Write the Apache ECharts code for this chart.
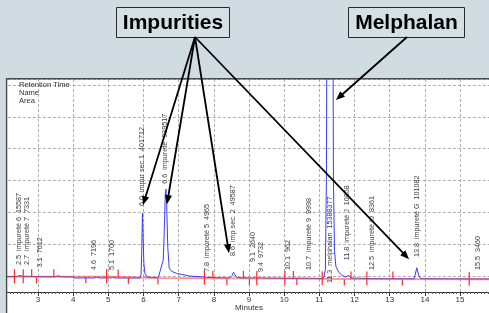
<!DOCTYPE html>
<html><head><meta charset="utf-8">
<script src="https://cdn.jsdelivr.net/npm/echarts@6/dist/echarts.min.js"></script>
<style>html,body{margin:0;padding:0;background:#d0dce1}#c{width:489px;height:313px}</style>
</head><body><div id="c"></div>
<script>
// ---- chromatogram signal (minutes, mAU-like units) ----
const signalTimes = [2.10,2.40,2.47,2.52,2.58,2.66,2.71,2.76,3.00,3.50,3.57,3.65,3.95,4.05,4.60,4.67,4.75,5.05,5.12,5.20,5.90,5.93,5.95,5.97,5.99,6.01,6.04,6.10,6.30,6.42,6.48,6.52,6.56,6.59,6.62,6.64,6.66,6.69,6.73,6.80,6.94,7.10,7.32,7.70,8.00,8.45,8.52,8.56,8.60,8.66,9.10,9.14,9.18,9.40,9.45,9.50,10.10,10.70,10.75,10.80,11.12,11.17,11.20,11.22,11.30,11.38,11.40,11.43,11.47,11.55,11.65,11.75,11.82,11.86,11.92,12.50,13.70,13.72,13.77,13.82,13.88,15.45,15.50,15.55,16.00];
const signalValues = [-0.15,-0.15,0.2,0.3,-0.1,-0.1,0.25,-0.1,-0.2,-0.2,0.1,-0.2,-0.25,-0.6,-0.6,-0.35,-0.6,-0.6,-0.45,-0.6,-0.6,0.5,8,19.8,12,4,0.8,-0.3,-0.5,-0.4,1.8,3.5,5,14,26,27.3,22,9,2.5,1.5,0.85,0.5,0.0,-0.3,-0.5,-0.6,0.2,1.2,0.4,-0.5,-0.6,-0.4,-0.6,-0.6,-0.45,-0.65,-0.7,-0.7,-0.5,-0.75,-0.8,2,30,100,420,100,30,8,3,1.2,0.2,-0.3,0.2,0.3,-0.6,-0.8,-0.85,0.3,2.6,0.3,-0.8,-0.9,-0.8,-0.9,-0.9];
// ---- integration baseline (red) ----
const baseTimes = [2.10,5.00,6.40,8.00,10.00,12.00,16.00];
const baseValues = [-0.2,-0.2,-0.6,-0.72,-0.75,-0.9,-1.0];
// ---- integration event marks: 1 = up, -1 = down, 0 = both ----
const eventTimes = [2.33,2.58,2.82,2.96,3.45,4.36,4.95,5.28,5.57,6.41,7.73,7.97,8.37,8.84,9.01,9.22,10.02,10.26,10.36,11.08,11.71,11.90,12.35,13.09,13.36,15.26];
const eventKinds = [0,0,1,-1,1,-1,0,1,-1,-1,0,1,-1,1,-1,0,0,1,-1,0,-1,1,0,1,-1,0];
// ---- peak annotations ----
const peakLabelTimes = [2.46,2.70,3.06,4.60,5.10,5.97,6.60,7.80,8.55,9.10,9.33,10.10,10.70,11.30,11.80,12.50,13.77,15.50];
const peakLabelLevels = [3.5,3.5,2.8,1.9,1.9,22,29,1.3,6.3,4.4,1.3,1.9,1.9,-2.2,5,1.9,6,1.9];
const peakLabelTexts = [
  "2.5  impureté 6  15587",
  "2.7  impureté 7  7331",
  "3.1  7612",
  "4.6  7196",
  "5.1  1700",
  "6.0  impur sec 1  401712",
  "6.6  impureté  939517",
  "7.8  impureté 5  4965",
  "8.6  imp sec. 2  49587",
  "9.1  2640",
  "9.4  9732",
  "10.1  962",
  "10.7  impureté 9  9998",
  "11.3  melphalan  15388377",
  "11.8  impureté J  10858",
  "12.5  impureté I0  8361",
  "13.8  impureté G  101082",
  "15.5  3460"
];
const legendLines = ["Retention Time","Name","Area"];
const impurityArrowTimes = [5.985,6.667,8.43,13.55];
const impurityArrowValues = [22.3,22.6,7.2,5.3];
const melphalanArrowTime = [11.47];
const melphalanArrowValue = [55.3];
const calloutTitles = ["Impurities","Melphalan"];

const BG = '#d0dce1';
function baseAt(t){
  for(let i=0;i<baseTimes.length-1;i++){
    if(t>=baseTimes[i] && t<=baseTimes[i+1]){
      const f=(t-baseTimes[i])/(baseTimes[i+1]-baseTimes[i]);
      return baseValues[i]+f*(baseValues[i+1]-baseValues[i]);
    }
  }
  return baseValues[baseValues.length-1];
}

const chart = echarts.init(document.getElementById('c'), null, {renderer:'canvas', width:489, height:313});
const FONT = '"Liberation Sans", Arial, sans-serif';
const option = {
  backgroundColor: '#ffffff',
  animation: false,
  grid: {left: 2.83, width: 492.4, top: 79, height: 213, containLabel: false, outerBoundsMode: 'none'},
  xAxis: {
    type: 'value', min: 2, max: 16, interval: 1,
    axisLine: {show: true, onZero: false, lineStyle: {color: '#333', width: 1}},
    axisTick: {show: true, inside: false, length: 4, lineStyle: {color: '#333'}},
    minorTick: {show: true, splitNumber: 10, length: 2, lineStyle: {color: '#555'}},
    axisLabel: {fontSize: 8, color: '#333', margin: 4, fontFamily: FONT,
      formatter: v => (v === 2 || v === 16) ? '' : String(v)},
    splitLine: {show: true, lineStyle: {color: '#b0b0b0', type: [3, 2], width: 1}},
    name: 'Minutes', nameLocation: 'middle', nameGap: 12, nameMoveOverlap: false,
    nameTextStyle: {fontSize: 8, color: '#333', fontFamily: FONT}
  },
  yAxis: {
    type: 'value', min: -5, max: 61.9, minInterval: 10, maxInterval: 10,
    axisLine: {show: false}, axisTick: {show: false}, axisLabel: {show: false},
    splitLine: {show: true, lineStyle: {color: '#b0b0b0', type: [3, 2], width: 1}}
  },
  series: [
    {
      type: 'line', data: signalTimes.map((t, i) => [t, signalValues[i]]),
      showSymbol: false, symbol: 'none', clip: true, z: 3,
      lineStyle: {color: '#3a3aff', width: 1}
    },
    {
      type: 'line', data: baseTimes.map((t, i) => [t, baseValues[i]]),
      showSymbol: false, symbol: 'none', z: 4,
      lineStyle: {color: 'rgba(255,60,60,0.55)', width: 2}
    },
    {
      type: 'custom', z: 5,
      data: eventTimes.map((t, i) => [t, baseAt(t), eventKinds[i]]),
      encode: {x: 0, y: 1},
      renderItem: (params, api) => {
        const p = api.coord([api.value(0), api.value(1)]);
        const k = api.value(2);
        let y1 = p[1], y2 = p[1];
        if (k >= 0) y1 = p[1] - 7.5;
        if (k <= 0) y2 = p[1] + 6.5;
        if (k < 0) y1 = p[1] + 0.5;
        return {type: 'line', shape: {x1: p[0], y1: y1, x2: p[0], y2: y2},
          style: {stroke: '#ff2a2a', lineWidth: 1.2}};
      }
    },
    {
      type: 'custom', z: 6,
      data: peakLabelTimes.map((t, i) => [t, peakLabelLevels[i], i]),
      encode: {x: 0, y: 1},
      renderItem: (params, api) => {
        const p = api.coord([api.value(0), api.value(1)]);
        const idx = api.value(2);
        return {type: 'text', x: p[0], y: p[1], rotation: Math.PI / 2,
          style: {text: peakLabelTexts[idx], fill: '#3a3a3a', font: '7.2px ' + FONT,
            align: 'left', verticalAlign: 'middle'}};
      }
    }
  ]
};
chart.setOption(option);

function arrow(x0, y0, x1, y1) {
  const dx = x1 - x0, dy = y1 - y0, L = Math.hypot(dx, dy);
  const ux = dx / L, uy = dy / L, hl = 9, hw = 3.6;
  const bx = x1 - ux * hl, by = y1 - uy * hl;
  return [
    {type: 'line', z: 70, shape: {x1: x0, y1: y0, x2: bx + ux, y2: by + uy},
      style: {stroke: '#000', lineWidth: 1.8}},
    {type: 'polygon', z: 70, shape: {points: [[x1, y1], [bx - uy * hw, by + ux * hw], [bx + uy * hw, by - ux * hw]]},
      style: {fill: '#000'}}
  ];
}

const g = [];
g.push({type: 'rect', z: 50, shape: {x: 0, y: 0, width: 489, height: 78.5}, style: {fill: BG}});
g.push({type: 'rect', z: 50, shape: {x: 0, y: 0, width: 6.5, height: 313}, style: {fill: BG}});
g.push({type: 'line', z: 51, shape: {x1: 6.5, y1: 78.7, x2: 489, y2: 78.7}, style: {stroke: '#4a4a4a', lineWidth: 1.6}});
g.push({type: 'line', z: 51, shape: {x1: 6.6, y1: 78, x2: 6.6, y2: 313}, style: {stroke: '#4a4a4a', lineWidth: 1.4}});
legendLines.forEach((s, i) => {
  g.push({type: 'text', z: 52, x: 19, y: 84.5 + i * 8.3,
    style: {text: s, fill: '#333', font: '7.5px ' + FONT, align: 'left', verticalAlign: 'middle'}});
});
// callout boxes
const boxes = [{x: 116, y: 7, w: 113, h: 30}, {x: 348, y: 7, w: 116, h: 30}];
boxes.forEach((b, i) => {
  g.push({type: 'rect', z: 60, shape: {x: b.x + 0.5, y: b.y + 0.5, width: b.w, height: b.h},
    style: {fill: '#d4e0e4', stroke: '#2a2a2a', lineWidth: 1}});
  g.push({type: 'text', z: 61, x: b.x + b.w / 2 + 0.5, y: b.y + b.h / 2 + 1,
    style: {text: calloutTitles[i], fill: '#000', font: 'bold 21px ' + FONT, align: 'center', verticalAlign: 'middle'}});
});
impurityArrowTimes.forEach((t, i) => {
  const p = chart.convertToPixel({gridIndex: 0}, [t, impurityArrowValues[i]]);
  arrow(195, 37, p[0], p[1]).forEach(e => g.push(e));
});
{
  const p = chart.convertToPixel({gridIndex: 0}, [melphalanArrowTime[0], melphalanArrowValue[0]]);
  arrow(407, 37, p[0], p[1]).forEach(e => g.push(e));
}
chart.setOption({graphic: {elements: g}});
</script></body></html>
